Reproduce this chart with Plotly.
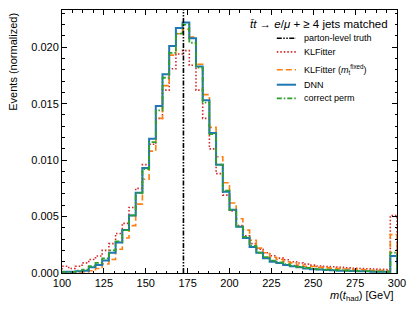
import numpy as np
import plotly.graph_objects as go

# ---- data -------------------------------------------------------------
bin_edges = list(range(100, 304, 4))  # 50 bins of 4 GeV, 100..300
truth_mass = 172.5

klfitter = [0.0006, 0.0004, 0.0006, 0.0009, 0.0012, 0.0015, 0.0020, 0.0026, 0.0035, 0.0044,
            0.0058, 0.0075, 0.0096, 0.0114, 0.0137, 0.0162, 0.0181, 0.0194, 0.0197, 0.0184,
            0.0162, 0.0137, 0.0110, 0.0088, 0.0069, 0.0055, 0.0042, 0.0033, 0.0026, 0.0021,
            0.0018, 0.00153, 0.00132, 0.00117, 0.0010, 0.00088, 0.00079, 0.0007, 0.00062, 0.00058,
            0.00055, 0.0005, 0.00045, 0.00042, 0.0004, 0.00038, 0.00036, 0.00032, 0.0003, 0.0051]

klfitter_fixed = [0.00005, 0.00005, 0.0001, 0.0001, 0.0002, 0.0004, 0.0008, 0.0012, 0.0021, 0.0031,
                  0.0042, 0.0061, 0.0083, 0.0108, 0.0137, 0.0166, 0.0193, 0.0212, 0.0216, 0.0209,
                  0.0185, 0.0158, 0.0129, 0.0103, 0.0080, 0.0062, 0.0048, 0.0038, 0.0029, 0.0022,
                  0.0018, 0.0014, 0.0012, 0.0010, 0.0009, 0.0007, 0.0006, 0.00058, 0.0005, 0.00045,
                  0.00042, 0.0004, 0.00036, 0.00033, 0.0003, 0.00028, 0.00025, 0.00022, 0.0002, 0.0034]

dnn = [0.0001, 0.0001, 0.00015, 0.0002, 0.0005, 0.0007, 0.0011, 0.0018, 0.0027, 0.0038,
       0.0051, 0.0071, 0.0093, 0.0119, 0.0148, 0.0176, 0.0201, 0.0217, 0.0222, 0.0208,
       0.0183, 0.0153, 0.0124, 0.0096, 0.0072, 0.0056, 0.0041, 0.0031, 0.0023, 0.0018,
       0.0013, 0.0010, 0.00088, 0.0007, 0.0006, 0.0005, 0.0004, 0.00033, 0.0003, 0.00027,
       0.00024, 0.0002, 0.0002, 0.00018, 0.00015, 0.00015, 0.00012, 0.0001, 0.0001, 0.0015]

correct_perm = [0.0001, 0.0001, 0.0002, 0.0003, 0.0006, 0.0009, 0.0013, 0.0020, 0.0028, 0.0038,
                0.0051, 0.0071, 0.0092, 0.0116, 0.0144, 0.0173, 0.0195, 0.0212, 0.0220, 0.0204,
                0.0182, 0.0151, 0.0123, 0.0096, 0.0073, 0.0056, 0.0041, 0.0032, 0.0024, 0.0018,
                0.0014, 0.0011, 0.00095, 0.00078, 0.00065, 0.00055, 0.00045, 0.00038, 0.00033, 0.0003,
                0.00028, 0.00025, 0.00022, 0.0002, 0.00018, 0.00016, 0.00014, 0.00012, 0.0001, 0.0018]

x_ticks = [100, 125, 150, 175, 200, 225, 250, 275, 300]
y_ticks = [0.0, 0.005, 0.010, 0.015, 0.020]
y_tick_labels = ["0.000", "0.005", "0.010", "0.015", "0.020"]

# ---- styling ----------------------------------------------------------
FONT = "Liberation Sans, Arial, Helvetica, sans-serif"
C_RED = "#d62728"
C_ORANGE = "#ff7f0e"
C_BLUE = "#1f77b4"
C_GREEN = "#2ca02c"
DASH_TRUTH = "5px,1.5px,1.5px,1.5px,1.5px,1.5px"
DASH_RED = "1.5px,2px"
DASH_ORANGE = "6px,3px"
DASH_GREEN = "5px,2px,1.5px,2px"


def step_xy(edges, vals):
    xs = [edges[0]] + list(edges[:-1]) + [edges[-1], edges[-1]]
    ys = [0] + list(vals) + [vals[-1], 0]
    return xs, ys


fig = go.Figure()
series = [
    ("KLFitter", klfitter, C_RED, DASH_RED, 1.6),
    ("KLFitter fixed", klfitter_fixed, C_ORANGE, DASH_ORANGE, 1.6),
    ("DNN", dnn, C_BLUE, "solid", 2.0),
    ("correct perm", correct_perm, C_GREEN, DASH_GREEN, 1.8),
]
for name, vals, col, dash, w in series:
    xs, ys = step_xy(bin_edges, vals)
    fig.add_trace(go.Scatter(x=xs, y=ys, mode="lines", name=name,
                             line=dict(color=col, dash=dash, width=w, shape="hv"),
                             showlegend=False, hoverinfo="skip"))

fig.add_trace(go.Scatter(x=[truth_mass, truth_mass], y=[0, 0.0233], mode="lines",
                         line=dict(color="black", dash=DASH_TRUTH, width=1.6),
                         showlegend=False, hoverinfo="skip"))

axis_common = dict(showline=True, linecolor="black", linewidth=1, mirror="allticks",
                   ticks="inside", ticklen=5, tickwidth=1, tickcolor="black",
                   showgrid=False, zeroline=False,
                   tickfont=dict(family=FONT, size=11, color="black"))

fig.update_xaxes(range=[100, 300], tickvals=x_ticks,
                 minor=dict(ticks="inside", ticklen=2.5, tickwidth=1, tickcolor="black",
                            dtick=6.25, tick0=100, showgrid=False),
                 **axis_common)
fig.update_yaxes(range=[0, 0.0233], tickvals=y_ticks, ticktext=y_tick_labels,
                 minor=dict(ticks="inside", ticklen=2.5, tickwidth=1, tickcolor="black",
                            dtick=0.001, tick0=0, showgrid=False),
                 **axis_common)

L, R, T, B = 62, 13, 9, 38
PW, PH = 415 - L - R, 311 - T - B


def px2paper(px, py):
    return (px - L) / PW, (311 - B - py) / PH


annotations = []
# axis titles
ax_x, ax_y = px2paper(400.5, 296)
annotations.append(dict(text="<i>m</i>(<i>t</i><sub>had</sub>) [GeV]", x=ax_x, y=ax_y,
                        xref="paper", yref="paper", xanchor="right", yanchor="middle",
                        showarrow=False, font=dict(family=FONT, size=11, color="black")))
ay_x, ay_y = px2paper(12.5, 9.5)
annotations.append(dict(text="Events (normalized)", x=ay_x, y=ay_y, xref="paper", yref="paper",
                        xanchor="center", yanchor="top", textangle=-90, showarrow=False,
                        font=dict(family=FONT, size=11, color="black")))

# legend (manual)
tx, ty = px2paper(394.5, 23.3)
annotations.append(dict(text="<i>t\u0304t</i> \u2192 <i>e</i>/<i>\u03bc</i> + \u2265 4 jets matched",
                        x=tx, y=ty, xref="paper", yref="paper", xanchor="right", yanchor="middle",
                        showarrow=False, font=dict(family=FONT, size=11.5, color="black")))

legend_entries = [
    ("parton-level truth", "black", DASH_TRUTH, 1.6, 37.3),
    ("KLFitter", C_RED, DASH_RED, 1.6, 51.0),
    ("KLFitter (<i>m</i><sub>t</sub><sup>fixed</sup>)", C_ORANGE, DASH_ORANGE, 1.6, 69.0),
    ("DNN", C_BLUE, "solid", 2.0, 84.0),
    ("correct perm", C_GREEN, DASH_GREEN, 1.8, 97.7),
]
shapes = []
for label, col, dash, w, py in legend_entries:
    x0, y0 = px2paper(280, py)
    x1, _ = px2paper(299.5, py)
    shapes.append(dict(type="line", xref="paper", yref="paper", x0=x0, x1=x1, y0=y0, y1=y0,
                       line=dict(color=col, dash=dash, width=w)))
    lx, ly = px2paper(306, py)
    annotations.append(dict(text=label, x=lx, y=ly, xref="paper", yref="paper",
                            xanchor="left", yanchor="middle", showarrow=False,
                            font=dict(family=FONT, size=9, color="black")))

fig.update_layout(width=415, height=311, margin=dict(l=L, r=R, t=T, b=B),
                  paper_bgcolor="white", plot_bgcolor="white",
                  annotations=annotations, shapes=shapes, showlegend=False)

fig.write_html("out.html", config={"displayModeBar": False, "staticPlot": True},
               post_script="document.body.style.margin='0px';document.body.style.padding='0px';"
                           "document.body.style.overflow='hidden';")
